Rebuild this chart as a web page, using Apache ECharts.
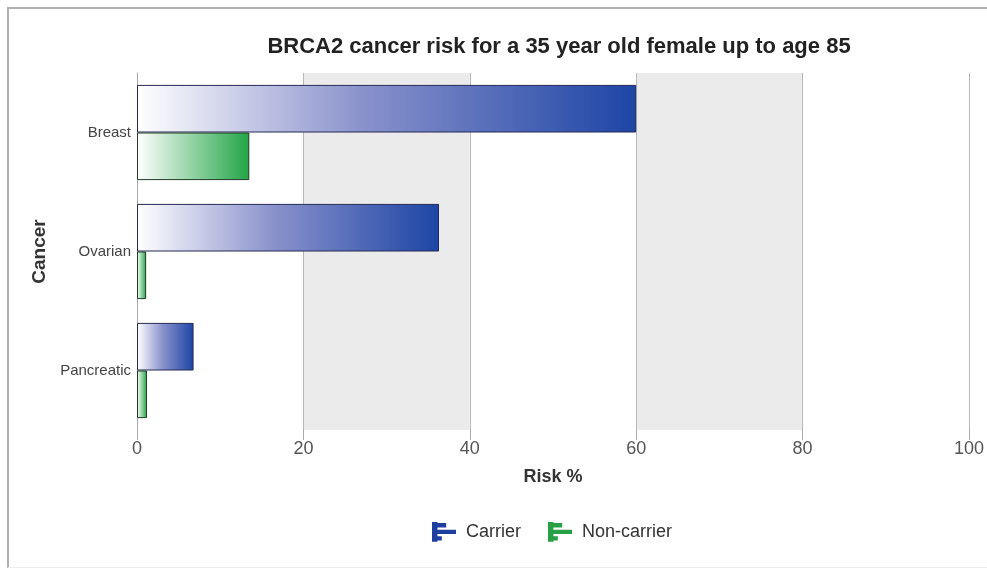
<!DOCTYPE html>
<html>
<head>
<meta charset="utf-8">
<script src="https://cdn.jsdelivr.net/npm/echarts@6/dist/echarts.min.js"></script>
<style>
  html, body { margin: 0; padding: 0; background: #fff; }
  #frame {
    position: absolute; left: 7px; top: 7px; width: 980px; height: 558px;
    border-left: 2px solid #b0b0b0; border-top: 2px solid #b0b0b0;
    border-bottom: 1px solid #eeeeee;
  }
  #chart { position: absolute; left: 0; top: 0; width: 987px; height: 569px; }
</style>
</head>
<body>
<div id="frame"></div>
<div id="chart"></div>
<script>
  // categories and risk values (%)
  const cancers = ['Breast', 'Ovarian', 'Pancreatic']
  const carrier = [60, 36.3, 6.8]
  const nonCarrier = [13.5, 1.1, 1.2]
  const xTicks = [0, 20, 40, 60, 80, 100]

  const chart = echarts.init(document.getElementById('chart'))

  const legendIcon = 'path://M0,0h5v18h-5z M5,1h8v4h-8z M5,7h17v4h-17z M5,13h4v4h-4z'

  const option = {
    animation: false,
    title: {
      text: 'BRCA2 cancer risk for a 35 year old female up to age 85',
      left: 554,
      textAlign: 'center',
      top: 31,
      textStyle: { fontFamily: 'Liberation Sans', fontSize: 22, fontWeight: 'bold', color: '#222' }
    },
    legend: {
      top: 517,
      left: 427,
      itemWidth: 24,
      itemHeight: 20,
      itemGap: 27,
      textStyle: { fontFamily: 'Liberation Sans', fontSize: 18, color: '#333', padding: [0, 0, 0, 5] },
      data: [
        { name: 'Carrier', icon: legendIcon, itemStyle: { color: '#1f3fa0', borderWidth: 0 } },
        { name: 'Non-carrier', icon: legendIcon, itemStyle: { color: '#27a046', borderWidth: 0 } }
      ]
    },
    grid: { left: 137, right: 15, top: 73, bottom: 139 },
    xAxis: {
      type: 'value',
      min: 0,
      max: 100,
      interval: 20,
      name: 'Risk %',
      nameLocation: 'middle',
      nameGap: 38,
      nameTextStyle: { fontFamily: 'Liberation Sans', fontSize: 18, fontWeight: 'bold', color: '#333' },
      axisLine: { show: false },
      axisTick: { show: true, length: 10, lineStyle: { color: '#aaa' } },
      axisLabel: {
        fontFamily: 'Liberation Sans', fontSize: 18, color: '#555', margin: 10,
        formatter: v => xTicks.includes(v) ? String(v) : ''
      },
      splitLine: { show: true, lineStyle: { color: '#b8b8b8', width: 1 } },
      splitArea: { show: true, areaStyle: { color: ['rgba(255,255,255,0)', '#ebebeb'] } }
    },
    yAxis: {
      type: 'category',
      data: cancers,
      inverse: true,
      name: 'Cancer',
      nameLocation: 'middle',
      nameGap: 85,
      nameRotate: 90,
      nameTextStyle: { fontFamily: 'Liberation Sans', fontSize: 19, fontWeight: 'bold', color: '#333' },
      axisLine: { show: true, lineStyle: { color: '#aaa' } },
      axisTick: { show: false },
      axisLabel: { fontFamily: 'Liberation Sans', fontSize: 15, color: '#444', margin: 6 }
    },
    series: [
      {
        name: 'Carrier',
        type: 'bar',
        data: carrier,
        barGap: '0%',
        barCategoryGap: '20%',
        itemStyle: {
          color: new echarts.graphic.LinearGradient(0, 0, 1, 0, [
            { offset: 0, color: '#ffffff' },
            { offset: 0.45, color: '#8a92cc' },
            { offset: 1, color: '#1d45a5' }
          ]),
          borderColor: '#252a55',
          borderWidth: 1
        }
      },
      {
        name: 'Non-carrier',
        type: 'bar',
        data: nonCarrier,
        itemStyle: {
          color: new echarts.graphic.LinearGradient(0, 0, 1, 0, [
            { offset: 0, color: '#ffffff' },
            { offset: 1, color: '#22a546' }
          ]),
          borderColor: '#213a28',
          borderWidth: 1
        }
      }
    ]
  }

  chart.setOption(option)
</script>
</body>
</html>
